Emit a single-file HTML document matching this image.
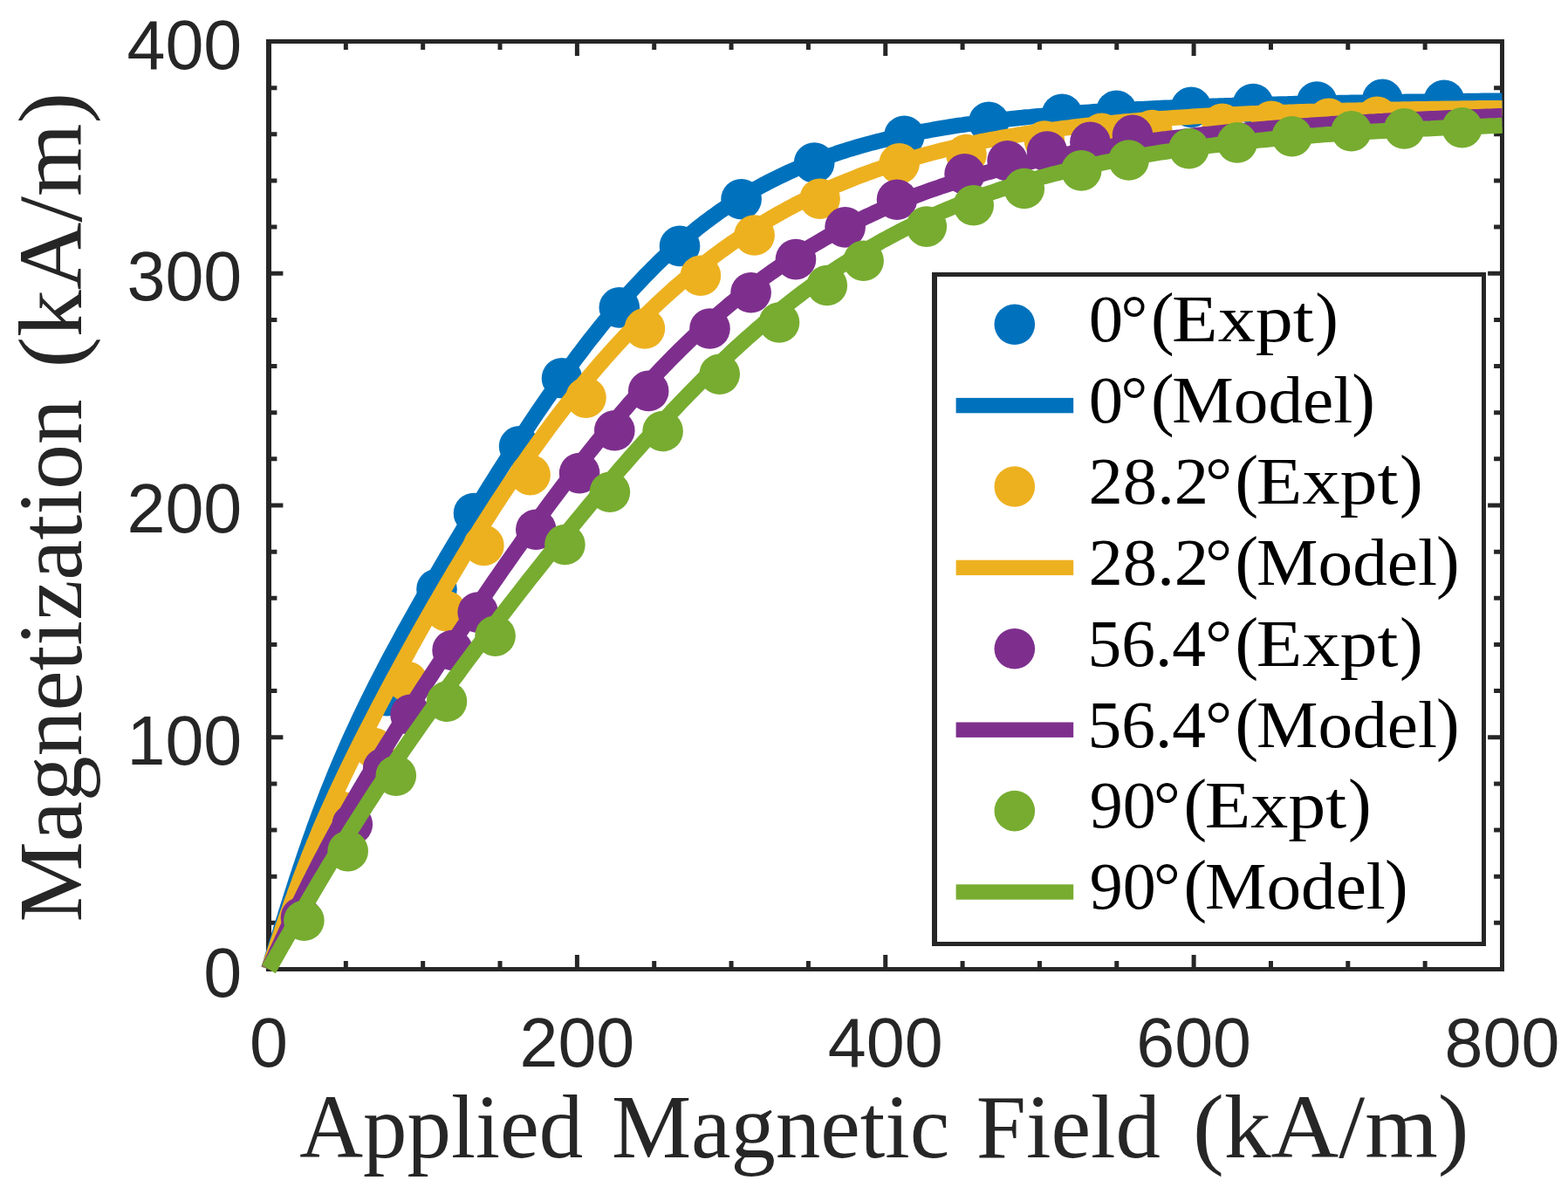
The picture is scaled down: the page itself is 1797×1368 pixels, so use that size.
<!DOCTYPE html>
<html><head><meta charset="utf-8"><title>Magnetization vs Applied Magnetic Field</title>
<style>html,body{margin:0;padding:0;background:#fff;}svg{display:block;}</style></head>
<body>
<svg width="1797" height="1368" viewBox="0 0 1797 1368">
<rect width="1797" height="1368" fill="#fff"/>
<path d="M308.00,1110.50V1094.10M308.00,47.50V63.90M396.34,1110.50V1101.10M396.34,47.50V56.90M484.69,1110.50V1101.10M484.69,47.50V56.90M573.03,1110.50V1101.10M573.03,47.50V56.90M661.38,1110.50V1094.10M661.38,47.50V63.90M749.72,1110.50V1101.10M749.72,47.50V56.90M838.06,1110.50V1101.10M838.06,47.50V56.90M926.41,1110.50V1101.10M926.41,47.50V56.90M1014.75,1110.50V1094.10M1014.75,47.50V63.90M1103.09,1110.50V1101.10M1103.09,47.50V56.90M1191.44,1110.50V1101.10M1191.44,47.50V56.90M1279.78,1110.50V1101.10M1279.78,47.50V56.90M1368.12,1110.50V1094.10M1368.12,47.50V63.90M1456.47,1110.50V1101.10M1456.47,47.50V56.90M1544.81,1110.50V1101.10M1544.81,47.50V56.90M1633.16,1110.50V1101.10M1633.16,47.50V56.90M1721.50,1110.50V1094.10M1721.50,47.50V63.90M308.00,1110.50H324.40M1721.50,1110.50H1705.10M308.00,1057.35H317.40M1721.50,1057.35H1712.10M308.00,1004.20H317.40M1721.50,1004.20H1712.10M308.00,951.05H317.40M1721.50,951.05H1712.10M308.00,897.90H317.40M1721.50,897.90H1712.10M308.00,844.75H324.40M1721.50,844.75H1705.10M308.00,791.60H317.40M1721.50,791.60H1712.10M308.00,738.45H317.40M1721.50,738.45H1712.10M308.00,685.30H317.40M1721.50,685.30H1712.10M308.00,632.15H317.40M1721.50,632.15H1712.10M308.00,579.00H324.40M1721.50,579.00H1705.10M308.00,525.85H317.40M1721.50,525.85H1712.10M308.00,472.70H317.40M1721.50,472.70H1712.10M308.00,419.55H317.40M1721.50,419.55H1712.10M308.00,366.40H317.40M1721.50,366.40H1712.10M308.00,313.25H324.40M1721.50,313.25H1705.10M308.00,260.10H317.40M1721.50,260.10H1712.10M308.00,206.95H317.40M1721.50,206.95H1712.10M308.00,153.80H317.40M1721.50,153.80H1712.10M308.00,100.65H317.40M1721.50,100.65H1712.10M308.00,47.50H324.40M1721.50,47.50H1705.10" stroke="#262626" stroke-width="5.0" fill="none"/>
<rect x="305" y="45" width="6" height="1068" fill="#262626"/><rect x="1719" y="45" width="5" height="1068" fill="#262626"/><rect x="305" y="45" width="1419" height="5" fill="#262626"/><rect x="305" y="1108" width="1419" height="5" fill="#262626"/>
<g fill="#0072BD"><circle cx="443.6" cy="797.2" r="23.3"/><circle cx="500.5" cy="675.0" r="23.3"/><circle cx="543.0" cy="588.0" r="23.3"/><circle cx="595.1" cy="511.4" r="23.3"/><circle cx="644.0" cy="433.3" r="23.3"/><circle cx="709.8" cy="352.4" r="23.3"/><circle cx="779.0" cy="281.9" r="23.3"/><circle cx="849.6" cy="228.2" r="23.3"/><circle cx="933.2" cy="186.5" r="23.3"/><circle cx="1036.3" cy="155.8" r="23.3"/><circle cx="1133.2" cy="139.8" r="23.3"/><circle cx="1217.1" cy="130.7" r="23.3"/><circle cx="1279.5" cy="126.8" r="23.3"/><circle cx="1365.1" cy="122.9" r="23.3"/><circle cx="1436.1" cy="119.0" r="23.3"/><circle cx="1509.2" cy="116.6" r="23.3"/><circle cx="1584.3" cy="113.9" r="23.3"/><circle cx="1655.0" cy="114.7" r="23.3"/></g>
<path d="M308.0,1110.5 L308.9,1107.6 L309.8,1104.7 L310.7,1101.8 L311.5,1098.9 L312.4,1095.9 L313.3,1093.0 L314.2,1090.1 L315.1,1087.2 L316.0,1084.3 L316.8,1081.4 L317.7,1078.5 L318.6,1075.7 L319.5,1072.8 L320.4,1069.9 L321.3,1067.0 L322.1,1064.1 L323.0,1061.3 L323.9,1058.4 L324.8,1055.6 L325.7,1052.7 L326.6,1049.9 L327.4,1047.0 L328.3,1044.2 L329.2,1041.4 L330.1,1038.6 L331.0,1035.7 L331.9,1032.9 L332.7,1030.2 L333.6,1027.4 L334.5,1024.6 L335.4,1021.8 L336.3,1019.1 L337.2,1016.3 L338.0,1013.6 L338.9,1010.9 L339.8,1008.1 L340.7,1005.4 L341.6,1002.7 L342.5,1000.0 L343.3,997.4 L344.2,994.7 L345.1,992.0 L346.0,989.4 L346.9,986.8 L347.8,984.1 L348.6,981.5 L349.5,978.9 L350.4,976.3 L351.3,973.7 L352.2,971.2 L353.1,968.6 L353.9,966.1 L354.8,963.5 L355.7,961.0 L356.6,958.5 L357.5,956.0 L358.4,953.5 L359.2,951.1 L360.1,948.6 L361.0,946.1 L361.9,943.7 L366.4,931.3 L371.0,919.3 L375.5,907.5 L380.1,896.1 L384.6,884.9 L389.2,874.0 L393.7,863.4 L398.3,853.0 L402.8,842.9 L407.4,833.0 L411.9,823.2 L416.5,813.7 L421.0,804.3 L425.6,795.1 L430.1,786.1 L434.6,777.2 L439.2,768.4 L443.7,759.7 L448.3,751.1 L452.8,742.6 L457.4,734.2 L461.9,725.9 L466.5,717.7 L471.0,709.5 L475.6,701.4 L480.1,693.3 L484.7,685.3 L489.2,677.4 L493.8,669.5 L498.3,661.6 L502.9,653.8 L507.4,646.1 L511.9,638.4 L516.5,630.7 L521.0,623.0 L525.6,615.4 L530.1,607.9 L534.7,600.3 L539.2,592.8 L543.8,585.4 L548.3,577.9 L552.9,570.6 L557.4,563.2 L562.0,555.9 L566.5,548.7 L571.1,541.4 L575.6,534.3 L580.2,527.1 L584.7,520.0 L589.2,513.0 L593.8,506.0 L598.3,499.1 L602.9,492.2 L607.4,485.3 L612.0,478.5 L616.5,471.8 L621.1,465.1 L625.6,458.5 L630.2,452.0 L634.7,445.5 L639.3,439.0 L643.8,432.7 L648.4,426.4 L652.9,420.2 L657.5,414.0 L662.0,407.9 L666.6,401.9 L671.1,395.9 L675.6,390.1 L680.2,384.3 L684.7,378.6 L689.3,372.9 L693.8,367.4 L698.4,361.9 L702.9,356.5 L707.5,351.2 L712.0,345.9 L716.6,340.8 L721.1,335.7 L725.7,330.7 L730.2,325.8 L734.8,321.0 L739.3,316.2 L743.9,311.6 L748.4,307.0 L752.9,302.5 L757.5,298.1 L762.0,293.8 L766.6,289.6 L771.1,285.4 L775.7,281.3 L780.2,277.3 L784.8,273.4 L789.3,269.6 L793.9,265.9 L798.4,262.2 L803.0,258.6 L807.5,255.1 L812.1,251.7 L816.6,248.3 L821.2,245.1 L825.7,241.8 L830.3,238.7 L834.8,235.7 L839.3,232.7 L843.9,229.8 L848.4,226.9 L853.0,224.1 L857.5,221.4 L862.1,218.8 L866.6,216.2 L871.2,213.7 L875.7,211.2 L880.3,208.8 L884.8,206.5 L889.4,204.2 L893.9,202.0 L898.5,199.8 L903.0,197.7 L907.6,195.6 L912.1,193.6 L916.6,191.7 L921.2,189.7 L925.7,187.9 L930.3,186.1 L934.8,184.3 L939.4,182.6 L943.9,180.9 L948.5,179.3 L953.0,177.7 L957.6,176.2 L962.1,174.6 L966.7,173.2 L971.2,171.7 L975.8,170.4 L980.3,169.0 L984.9,167.7 L989.4,166.4 L993.9,165.1 L998.5,163.9 L1003.0,162.7 L1007.6,161.6 L1012.1,160.4 L1016.7,159.3 L1021.2,158.3 L1025.8,157.2 L1030.3,156.2 L1034.9,155.2 L1039.4,154.3 L1044.0,153.3 L1048.5,152.4 L1053.1,151.5 L1057.6,150.6 L1062.2,149.8 L1066.7,149.0 L1071.3,148.2 L1075.8,147.4 L1080.3,146.6 L1084.9,145.9 L1089.4,145.1 L1094.0,144.4 L1098.5,143.7 L1103.1,143.1 L1107.6,142.4 L1112.2,141.8 L1116.7,141.1 L1121.3,140.5 L1125.8,139.9 L1130.4,139.4 L1134.9,138.8 L1139.5,138.3 L1144.0,137.7 L1148.6,137.2 L1153.1,136.7 L1157.6,136.2 L1162.2,135.7 L1166.7,135.2 L1171.3,134.8 L1175.8,134.3 L1180.4,133.9 L1184.9,133.4 L1189.5,133.0 L1194.0,132.6 L1198.6,132.2 L1203.1,131.8 L1207.7,131.4 L1212.2,131.1 L1216.8,130.7 L1221.3,130.3 L1225.9,130.0 L1230.4,129.6 L1235.0,129.3 L1239.5,129.0 L1244.0,128.7 L1248.6,128.4 L1253.1,128.1 L1257.7,127.8 L1262.2,127.5 L1266.8,127.2 L1271.3,126.9 L1275.9,126.6 L1280.4,126.4 L1285.0,126.1 L1289.5,125.9 L1294.1,125.6 L1298.6,125.4 L1303.2,125.1 L1307.7,124.9 L1312.3,124.7 L1316.8,124.5 L1321.3,124.3 L1325.9,124.0 L1330.4,123.8 L1335.0,123.6 L1339.5,123.4 L1344.1,123.2 L1348.6,123.0 L1353.2,122.9 L1357.7,122.7 L1362.3,122.5 L1366.8,122.3 L1371.4,122.2 L1375.9,122.0 L1380.5,121.8 L1385.0,121.7 L1389.6,121.5 L1394.1,121.4 L1398.6,121.2 L1403.2,121.1 L1407.7,120.9 L1412.3,120.8 L1416.8,120.6 L1421.4,120.5 L1425.9,120.4 L1430.5,120.2 L1435.0,120.1 L1439.6,120.0 L1444.1,119.9 L1448.7,119.7 L1453.2,119.6 L1457.8,119.5 L1462.3,119.4 L1466.9,119.3 L1471.4,119.2 L1476.0,119.1 L1480.5,118.9 L1485.0,118.8 L1489.6,118.7 L1494.1,118.6 L1498.7,118.5 L1503.2,118.5 L1507.8,118.4 L1512.3,118.3 L1516.9,118.2 L1521.4,118.1 L1526.0,118.0 L1530.5,117.9 L1535.1,117.8 L1539.6,117.7 L1544.2,117.7 L1548.7,117.6 L1553.3,117.5 L1557.8,117.4 L1562.3,117.4 L1566.9,117.3 L1571.4,117.2 L1576.0,117.1 L1580.5,117.1 L1585.1,117.0 L1589.6,116.9 L1594.2,116.9 L1598.7,116.8 L1603.3,116.7 L1607.8,116.7 L1612.4,116.6 L1616.9,116.6 L1621.5,116.5 L1626.0,116.4 L1630.6,116.4 L1635.1,116.3 L1639.7,116.3 L1644.2,116.2 L1648.7,116.2 L1653.3,116.1 L1657.8,116.1 L1662.4,116.0 L1666.9,116.0 L1671.5,115.9 L1676.0,115.9 L1680.6,115.8 L1685.1,115.8 L1689.7,115.7 L1694.2,115.7 L1698.8,115.6 L1703.3,115.6 L1707.9,115.5 L1712.4,115.5 L1717.0,115.5 L1721.5,115.4" fill="none" stroke="#0072BD" stroke-width="18.0" stroke-linejoin="round"/>
<g fill="#EDB120"><circle cx="392.0" cy="930.0" r="23.3"/><circle cx="428.5" cy="857.0" r="23.3"/><circle cx="467.0" cy="781.0" r="23.3"/><circle cx="511.0" cy="700.0" r="23.3"/><circle cx="554.4" cy="624.9" r="23.3"/><circle cx="607.6" cy="544.1" r="23.3"/><circle cx="671.5" cy="455.6" r="23.3"/><circle cx="738.9" cy="376.4" r="23.3"/><circle cx="802.9" cy="315.7" r="23.3"/><circle cx="864.6" cy="269.5" r="23.3"/><circle cx="939.6" cy="227.8" r="23.3"/><circle cx="1030.6" cy="187.4" r="23.3"/><circle cx="1107.5" cy="177.0" r="23.3"/><circle cx="1197.0" cy="161.6" r="23.3"/><circle cx="1262.6" cy="152.7" r="23.3"/><circle cx="1320.3" cy="149.0" r="23.3"/><circle cx="1400.7" cy="141.9" r="23.3"/><circle cx="1457.0" cy="138.7" r="23.3"/><circle cx="1522.7" cy="135.8" r="23.3"/><circle cx="1578.2" cy="133.8" r="23.3"/></g>
<path d="M308.0,1110.5 L308.9,1107.9 L309.8,1105.2 L310.7,1102.6 L311.5,1099.9 L312.4,1097.3 L313.3,1094.7 L314.2,1092.1 L315.1,1089.4 L316.0,1086.8 L316.8,1084.2 L317.7,1081.6 L318.6,1079.0 L319.5,1076.4 L320.4,1073.8 L321.3,1071.2 L322.1,1068.6 L323.0,1066.0 L323.9,1063.4 L324.8,1060.8 L325.7,1058.3 L326.6,1055.7 L327.4,1053.2 L328.3,1050.6 L329.2,1048.1 L330.1,1045.6 L331.0,1043.1 L331.9,1040.6 L332.7,1038.1 L333.6,1035.6 L334.5,1033.1 L335.4,1030.7 L336.3,1028.2 L337.2,1025.8 L338.0,1023.3 L338.9,1020.9 L339.8,1018.5 L340.7,1016.1 L341.6,1013.7 L342.5,1011.3 L343.3,1008.9 L344.2,1006.6 L345.1,1004.2 L346.0,1001.9 L346.9,999.6 L347.8,997.3 L348.6,995.0 L349.5,992.7 L350.4,990.4 L351.3,988.1 L352.2,985.9 L353.1,983.6 L353.9,981.4 L354.8,979.1 L355.7,976.9 L356.6,974.7 L357.5,972.5 L358.4,970.3 L359.2,968.2 L360.1,966.0 L361.0,963.8 L361.9,961.7 L366.4,950.8 L371.0,940.2 L375.5,929.8 L380.1,919.6 L384.6,909.6 L389.2,899.8 L393.7,890.2 L398.3,880.7 L402.8,871.3 L407.4,862.1 L411.9,852.9 L416.5,843.9 L421.0,835.0 L425.6,826.1 L430.1,817.3 L434.6,808.6 L439.2,800.0 L443.7,791.4 L448.3,782.9 L452.8,774.5 L457.4,766.1 L461.9,757.7 L466.5,749.5 L471.0,741.2 L475.6,733.0 L480.1,724.9 L484.7,716.8 L489.2,708.8 L493.8,700.9 L498.3,692.9 L502.9,685.1 L507.4,677.3 L511.9,669.5 L516.5,661.8 L521.0,654.1 L525.6,646.6 L530.1,639.0 L534.7,631.5 L539.2,624.1 L543.8,616.8 L548.3,609.4 L552.9,602.2 L557.4,595.0 L562.0,587.9 L566.5,580.8 L571.1,573.8 L575.6,566.9 L580.2,560.0 L584.7,553.2 L589.2,546.5 L593.8,539.8 L598.3,533.2 L602.9,526.6 L607.4,520.1 L612.0,513.7 L616.5,507.4 L621.1,501.1 L625.6,494.9 L630.2,488.7 L634.7,482.6 L639.3,476.6 L643.8,470.7 L648.4,464.8 L652.9,459.0 L657.5,453.3 L662.0,447.6 L666.6,442.0 L671.1,436.5 L675.6,431.0 L680.2,425.6 L684.7,420.3 L689.3,415.0 L693.8,409.9 L698.4,404.7 L702.9,399.7 L707.5,394.7 L712.0,389.8 L716.6,384.9 L721.1,380.2 L725.7,375.4 L730.2,370.8 L734.8,366.2 L739.3,361.7 L743.9,357.3 L748.4,352.9 L752.9,348.6 L757.5,344.3 L762.0,340.1 L766.6,336.0 L771.1,331.9 L775.7,327.9 L780.2,324.0 L784.8,320.1 L789.3,316.3 L793.9,312.5 L798.4,308.9 L803.0,305.2 L807.5,301.6 L812.1,298.1 L816.6,294.7 L821.2,291.3 L825.7,287.9 L830.3,284.6 L834.8,281.4 L839.3,278.2 L843.9,275.1 L848.4,272.0 L853.0,269.0 L857.5,266.0 L862.1,263.1 L866.6,260.3 L871.2,257.4 L875.7,254.7 L880.3,252.0 L884.8,249.3 L889.4,246.7 L893.9,244.1 L898.5,241.6 L903.0,239.1 L907.6,236.7 L912.1,234.3 L916.6,232.0 L921.2,229.7 L925.7,227.4 L930.3,225.2 L934.8,223.0 L939.4,220.9 L943.9,218.8 L948.5,216.8 L953.0,214.8 L957.6,212.8 L962.1,210.8 L966.7,209.0 L971.2,207.1 L975.8,205.3 L980.3,203.5 L984.9,201.7 L989.4,200.0 L993.9,198.3 L998.5,196.7 L1003.0,195.1 L1007.6,193.5 L1012.1,191.9 L1016.7,190.4 L1021.2,188.9 L1025.8,187.5 L1030.3,186.0 L1034.9,184.6 L1039.4,183.2 L1044.0,181.9 L1048.5,180.6 L1053.1,179.3 L1057.6,178.0 L1062.2,176.8 L1066.7,175.6 L1071.3,174.4 L1075.8,173.2 L1080.3,172.1 L1084.9,171.0 L1089.4,169.9 L1094.0,168.8 L1098.5,167.8 L1103.1,166.7 L1107.6,165.7 L1112.2,164.8 L1116.7,163.8 L1121.3,162.9 L1125.8,161.9 L1130.4,161.0 L1134.9,160.2 L1139.5,159.3 L1144.0,158.5 L1148.6,157.6 L1153.1,156.8 L1157.6,156.0 L1162.2,155.3 L1166.7,154.5 L1171.3,153.8 L1175.8,153.0 L1180.4,152.3 L1184.9,151.6 L1189.5,151.0 L1194.0,150.3 L1198.6,149.7 L1203.1,149.0 L1207.7,148.4 L1212.2,147.8 L1216.8,147.2 L1221.3,146.6 L1225.9,146.1 L1230.4,145.5 L1235.0,145.0 L1239.5,144.4 L1244.0,143.9 L1248.6,143.4 L1253.1,142.9 L1257.7,142.4 L1262.2,142.0 L1266.8,141.5 L1271.3,141.1 L1275.9,140.6 L1280.4,140.2 L1285.0,139.8 L1289.5,139.3 L1294.1,138.9 L1298.6,138.6 L1303.2,138.2 L1307.7,137.8 L1312.3,137.4 L1316.8,137.1 L1321.3,136.7 L1325.9,136.4 L1330.4,136.0 L1335.0,135.7 L1339.5,135.4 L1344.1,135.1 L1348.6,134.8 L1353.2,134.5 L1357.7,134.2 L1362.3,133.9 L1366.8,133.6 L1371.4,133.3 L1375.9,133.1 L1380.5,132.8 L1385.0,132.6 L1389.6,132.3 L1394.1,132.1 L1398.6,131.8 L1403.2,131.6 L1407.7,131.4 L1412.3,131.2 L1416.8,131.0 L1421.4,130.7 L1425.9,130.5 L1430.5,130.3 L1435.0,130.1 L1439.6,130.0 L1444.1,129.8 L1448.7,129.6 L1453.2,129.4 L1457.8,129.2 L1462.3,129.1 L1466.9,128.9 L1471.4,128.7 L1476.0,128.6 L1480.5,128.4 L1485.0,128.3 L1489.6,128.1 L1494.1,128.0 L1498.7,127.8 L1503.2,127.7 L1507.8,127.6 L1512.3,127.4 L1516.9,127.3 L1521.4,127.2 L1526.0,127.1 L1530.5,127.0 L1535.1,126.8 L1539.6,126.7 L1544.2,126.6 L1548.7,126.5 L1553.3,126.4 L1557.8,126.3 L1562.3,126.2 L1566.9,126.1 L1571.4,126.0 L1576.0,125.9 L1580.5,125.8 L1585.1,125.7 L1589.6,125.6 L1594.2,125.6 L1598.7,125.5 L1603.3,125.4 L1607.8,125.3 L1612.4,125.2 L1616.9,125.2 L1621.5,125.1 L1626.0,125.0 L1630.6,125.0 L1635.1,124.9 L1639.7,124.8 L1644.2,124.8 L1648.7,124.7 L1653.3,124.6 L1657.8,124.6 L1662.4,124.5 L1666.9,124.5 L1671.5,124.4 L1676.0,124.3 L1680.6,124.3 L1685.1,124.2 L1689.7,124.2 L1694.2,124.1 L1698.8,124.1 L1703.3,124.1 L1707.9,124.0 L1712.4,124.0 L1717.0,123.9 L1721.5,123.9" fill="none" stroke="#EDB120" stroke-width="18.0" stroke-linejoin="round"/>
<g fill="#7E2F8E"><circle cx="345.0" cy="1051.0" r="23.3"/><circle cx="403.8" cy="944.5" r="23.3"/><circle cx="439.2" cy="880.2" r="23.3"/><circle cx="470.5" cy="818.8" r="23.3"/><circle cx="518.6" cy="745.0" r="23.3"/><circle cx="547.7" cy="701.6" r="23.3"/><circle cx="614.3" cy="606.8" r="23.3"/><circle cx="664.1" cy="542.1" r="23.3"/><circle cx="704.3" cy="493.2" r="23.3"/><circle cx="743.2" cy="447.9" r="23.3"/><circle cx="813.5" cy="376.5" r="23.3"/><circle cx="860.6" cy="335.2" r="23.3"/><circle cx="912.0" cy="297.1" r="23.3"/><circle cx="968.6" cy="260.4" r="23.3"/><circle cx="1028.0" cy="228.7" r="23.3"/><circle cx="1105.6" cy="199.4" r="23.3"/><circle cx="1154.6" cy="184.3" r="23.3"/><circle cx="1200.0" cy="173.6" r="23.3"/><circle cx="1249.4" cy="162.9" r="23.3"/><circle cx="1298.0" cy="154.9" r="23.3"/></g>
<path d="M308.0,1110.5 L308.9,1108.6 L309.8,1106.6 L310.7,1104.7 L311.5,1102.7 L312.4,1100.8 L313.3,1098.9 L314.2,1096.9 L315.1,1095.0 L316.0,1093.0 L316.8,1091.1 L317.7,1089.2 L318.6,1087.2 L319.5,1085.3 L320.4,1083.4 L321.3,1081.5 L322.1,1079.5 L323.0,1077.6 L323.9,1075.7 L324.8,1073.8 L325.7,1071.9 L326.6,1069.9 L327.4,1068.0 L328.3,1066.1 L329.2,1064.2 L330.1,1062.3 L331.0,1060.4 L331.9,1058.5 L332.7,1056.6 L333.6,1054.8 L334.5,1052.9 L335.4,1051.0 L336.3,1049.1 L337.2,1047.2 L338.0,1045.4 L338.9,1043.5 L339.8,1041.7 L340.7,1039.8 L341.6,1038.0 L342.5,1036.1 L343.3,1034.3 L344.2,1032.4 L345.1,1030.6 L346.0,1028.8 L346.9,1026.9 L347.8,1025.1 L348.6,1023.3 L349.5,1021.5 L350.4,1019.7 L351.3,1017.9 L352.2,1016.1 L353.1,1014.3 L353.9,1012.5 L354.8,1010.8 L355.7,1009.0 L356.6,1007.2 L357.5,1005.4 L358.4,1003.7 L359.2,1001.9 L360.1,1000.2 L361.0,998.4 L361.9,996.7 L366.4,987.8 L371.0,979.1 L375.5,970.5 L380.1,962.0 L384.6,953.6 L389.2,945.3 L393.7,937.2 L398.3,929.1 L402.8,921.2 L407.4,913.3 L411.9,905.6 L416.5,897.8 L421.0,890.2 L425.6,882.7 L430.1,875.2 L434.6,867.7 L439.2,860.3 L443.7,853.0 L448.3,845.7 L452.8,838.4 L457.4,831.2 L461.9,824.0 L466.5,816.8 L471.0,809.7 L475.6,802.6 L480.1,795.6 L484.7,788.5 L489.2,781.5 L493.8,774.5 L498.3,767.6 L502.9,760.6 L507.4,753.7 L511.9,746.8 L516.5,739.9 L521.0,733.1 L525.6,726.3 L530.1,719.5 L534.7,712.7 L539.2,705.9 L543.8,699.2 L548.3,692.5 L552.9,685.8 L557.4,679.2 L562.0,672.5 L566.5,665.9 L571.1,659.4 L575.6,652.8 L580.2,646.3 L584.7,639.8 L589.2,633.3 L593.8,626.9 L598.3,620.5 L602.9,614.1 L607.4,607.8 L612.0,601.5 L616.5,595.3 L621.1,589.0 L625.6,582.9 L630.2,576.7 L634.7,570.6 L639.3,564.5 L643.8,558.5 L648.4,552.5 L652.9,546.6 L657.5,540.7 L662.0,534.8 L666.6,529.0 L671.1,523.2 L675.6,517.5 L680.2,511.8 L684.7,506.2 L689.3,500.6 L693.8,495.1 L698.4,489.6 L702.9,484.2 L707.5,478.8 L712.0,473.4 L716.6,468.2 L721.1,462.9 L725.7,457.8 L730.2,452.6 L734.8,447.6 L739.3,442.6 L743.9,437.6 L748.4,432.7 L752.9,427.9 L757.5,423.1 L762.0,418.3 L766.6,413.7 L771.1,409.0 L775.7,404.5 L780.2,399.9 L784.8,395.5 L789.3,391.1 L793.9,386.7 L798.4,382.5 L803.0,378.2 L807.5,374.1 L812.1,369.9 L816.6,365.9 L821.2,361.9 L825.7,357.9 L830.3,354.0 L834.8,350.2 L839.3,346.4 L843.9,342.7 L848.4,339.0 L853.0,335.4 L857.5,331.8 L862.1,328.3 L866.6,324.8 L871.2,321.4 L875.7,318.1 L880.3,314.8 L884.8,311.5 L889.4,308.3 L893.9,305.2 L898.5,302.1 L903.0,299.0 L907.6,296.0 L912.1,293.1 L916.6,290.2 L921.2,287.3 L925.7,284.5 L930.3,281.8 L934.8,279.1 L939.4,276.4 L943.9,273.8 L948.5,271.2 L953.0,268.6 L957.6,266.2 L962.1,263.7 L966.7,261.3 L971.2,258.9 L975.8,256.6 L980.3,254.3 L984.9,252.1 L989.4,249.9 L993.9,247.7 L998.5,245.6 L1003.0,243.5 L1007.6,241.4 L1012.1,239.4 L1016.7,237.4 L1021.2,235.5 L1025.8,233.6 L1030.3,231.7 L1034.9,229.8 L1039.4,228.0 L1044.0,226.3 L1048.5,224.5 L1053.1,222.8 L1057.6,221.1 L1062.2,219.4 L1066.7,217.8 L1071.3,216.2 L1075.8,214.7 L1080.3,213.1 L1084.9,211.6 L1089.4,210.1 L1094.0,208.7 L1098.5,207.2 L1103.1,205.8 L1107.6,204.4 L1112.2,203.1 L1116.7,201.7 L1121.3,200.4 L1125.8,199.2 L1130.4,197.9 L1134.9,196.7 L1139.5,195.4 L1144.0,194.2 L1148.6,193.1 L1153.1,191.9 L1157.6,190.8 L1162.2,189.7 L1166.7,188.6 L1171.3,187.5 L1175.8,186.5 L1180.4,185.4 L1184.9,184.4 L1189.5,183.4 L1194.0,182.4 L1198.6,181.5 L1203.1,180.5 L1207.7,179.6 L1212.2,178.7 L1216.8,177.8 L1221.3,176.9 L1225.9,176.1 L1230.4,175.2 L1235.0,174.4 L1239.5,173.5 L1244.0,172.7 L1248.6,172.0 L1253.1,171.2 L1257.7,170.4 L1262.2,169.7 L1266.8,168.9 L1271.3,168.2 L1275.9,167.5 L1280.4,166.8 L1285.0,166.1 L1289.5,165.4 L1294.1,164.8 L1298.6,164.1 L1303.2,163.5 L1307.7,162.8 L1312.3,162.2 L1316.8,161.6 L1321.3,161.0 L1325.9,160.4 L1330.4,159.8 L1335.0,159.3 L1339.5,158.7 L1344.1,158.1 L1348.6,157.6 L1353.2,157.1 L1357.7,156.5 L1362.3,156.0 L1366.8,155.5 L1371.4,155.0 L1375.9,154.5 L1380.5,154.0 L1385.0,153.6 L1389.6,153.1 L1394.1,152.6 L1398.6,152.2 L1403.2,151.7 L1407.7,151.3 L1412.3,150.9 L1416.8,150.5 L1421.4,150.0 L1425.9,149.6 L1430.5,149.2 L1435.0,148.8 L1439.6,148.4 L1444.1,148.1 L1448.7,147.7 L1453.2,147.3 L1457.8,146.9 L1462.3,146.6 L1466.9,146.2 L1471.4,145.9 L1476.0,145.5 L1480.5,145.2 L1485.0,144.9 L1489.6,144.5 L1494.1,144.2 L1498.7,143.9 L1503.2,143.6 L1507.8,143.3 L1512.3,143.0 L1516.9,142.7 L1521.4,142.4 L1526.0,142.1 L1530.5,141.8 L1535.1,141.5 L1539.6,141.2 L1544.2,141.0 L1548.7,140.7 L1553.3,140.4 L1557.8,140.2 L1562.3,139.9 L1566.9,139.7 L1571.4,139.4 L1576.0,139.2 L1580.5,138.9 L1585.1,138.7 L1589.6,138.4 L1594.2,138.2 L1598.7,138.0 L1603.3,137.8 L1607.8,137.5 L1612.4,137.3 L1616.9,137.1 L1621.5,136.9 L1626.0,136.7 L1630.6,136.5 L1635.1,136.3 L1639.7,136.1 L1644.2,135.9 L1648.7,135.7 L1653.3,135.5 L1657.8,135.3 L1662.4,135.1 L1666.9,134.9 L1671.5,134.7 L1676.0,134.6 L1680.6,134.4 L1685.1,134.2 L1689.7,134.0 L1694.2,133.9 L1698.8,133.7 L1703.3,133.5 L1707.9,133.4 L1712.4,133.2 L1717.0,133.0 L1721.5,132.9" fill="none" stroke="#7E2F8E" stroke-width="18.0" stroke-linejoin="round"/>
<g fill="#77AC30"><circle cx="348.4" cy="1054.7" r="23.3"/><circle cx="398.7" cy="975.1" r="23.3"/><circle cx="453.8" cy="888.7" r="23.3"/><circle cx="512.0" cy="803.7" r="23.3"/><circle cx="567.6" cy="728.6" r="23.3"/><circle cx="647.4" cy="624.0" r="23.3"/><circle cx="698.9" cy="563.8" r="23.3"/><circle cx="759.6" cy="494.0" r="23.3"/><circle cx="824.7" cy="428.7" r="23.3"/><circle cx="893.0" cy="369.5" r="23.3"/><circle cx="947.8" cy="327.0" r="23.3"/><circle cx="989.6" cy="298.8" r="23.3"/><circle cx="1061.8" cy="259.6" r="23.3"/><circle cx="1115.7" cy="235.2" r="23.3"/><circle cx="1173.8" cy="216.0" r="23.3"/><circle cx="1239.2" cy="195.4" r="23.3"/><circle cx="1293.6" cy="183.5" r="23.3"/><circle cx="1362.6" cy="170.2" r="23.3"/><circle cx="1417.8" cy="163.4" r="23.3"/><circle cx="1480.6" cy="156.3" r="23.3"/><circle cx="1548.7" cy="150.2" r="23.3"/><circle cx="1609.4" cy="147.4" r="23.3"/><circle cx="1675.6" cy="146.3" r="23.3"/></g>
<path d="M308.0,1110.5 L308.9,1109.0 L309.8,1107.4 L310.7,1105.9 L311.5,1104.3 L312.4,1102.8 L313.3,1101.2 L314.2,1099.7 L315.1,1098.1 L316.0,1096.6 L316.8,1095.0 L317.7,1093.5 L318.6,1091.9 L319.5,1090.4 L320.4,1088.8 L321.3,1087.3 L322.1,1085.7 L323.0,1084.2 L323.9,1082.6 L324.8,1081.1 L325.7,1079.6 L326.6,1078.0 L327.4,1076.5 L328.3,1074.9 L329.2,1073.4 L330.1,1071.8 L331.0,1070.3 L331.9,1068.8 L332.7,1067.2 L333.6,1065.7 L334.5,1064.2 L335.4,1062.6 L336.3,1061.1 L337.2,1059.6 L338.0,1058.0 L338.9,1056.5 L339.8,1055.0 L340.7,1053.4 L341.6,1051.9 L342.5,1050.4 L343.3,1048.9 L344.2,1047.3 L345.1,1045.8 L346.0,1044.3 L346.9,1042.8 L347.8,1041.2 L348.6,1039.7 L349.5,1038.2 L350.4,1036.7 L351.3,1035.2 L352.2,1033.7 L353.1,1032.2 L353.9,1030.6 L354.8,1029.1 L355.7,1027.6 L356.6,1026.1 L357.5,1024.6 L358.4,1023.1 L359.2,1021.6 L360.1,1020.1 L361.0,1018.6 L361.9,1017.1 L366.4,1009.4 L371.0,1001.8 L375.5,994.2 L380.1,986.7 L384.6,979.2 L389.2,971.8 L393.7,964.4 L398.3,957.1 L402.8,949.8 L407.4,942.6 L411.9,935.4 L416.5,928.3 L421.0,921.2 L425.6,914.2 L430.1,907.2 L434.6,900.3 L439.2,893.4 L443.7,886.6 L448.3,879.8 L452.8,873.1 L457.4,866.4 L461.9,859.7 L466.5,853.1 L471.0,846.6 L475.6,840.0 L480.1,833.6 L484.7,827.1 L489.2,820.7 L493.8,814.3 L498.3,807.9 L502.9,801.6 L507.4,795.3 L511.9,789.1 L516.5,782.8 L521.0,776.6 L525.6,770.5 L530.1,764.3 L534.7,758.2 L539.2,752.1 L543.8,746.0 L548.3,739.9 L552.9,733.9 L557.4,727.9 L562.0,721.9 L566.5,715.9 L571.1,710.0 L575.6,704.0 L580.2,698.1 L584.7,692.2 L589.2,686.4 L593.8,680.5 L598.3,674.7 L602.9,668.9 L607.4,663.1 L612.0,657.3 L616.5,651.6 L621.1,645.8 L625.6,640.1 L630.2,634.4 L634.7,628.8 L639.3,623.1 L643.8,617.5 L648.4,611.9 L652.9,606.3 L657.5,600.7 L662.0,595.2 L666.6,589.7 L671.1,584.2 L675.6,578.7 L680.2,573.3 L684.7,567.9 L689.3,562.5 L693.8,557.1 L698.4,551.8 L702.9,546.5 L707.5,541.2 L712.0,535.9 L716.6,530.7 L721.1,525.5 L725.7,520.3 L730.2,515.2 L734.8,510.1 L739.3,505.0 L743.9,500.0 L748.4,495.0 L752.9,490.0 L757.5,485.1 L762.0,480.2 L766.6,475.3 L771.1,470.5 L775.7,465.7 L780.2,460.9 L784.8,456.2 L789.3,451.5 L793.9,446.9 L798.4,442.3 L803.0,437.7 L807.5,433.2 L812.1,428.7 L816.6,424.3 L821.2,419.9 L825.7,415.5 L830.3,411.2 L834.8,406.9 L839.3,402.7 L843.9,398.5 L848.4,394.4 L853.0,390.3 L857.5,386.2 L862.1,382.2 L866.6,378.2 L871.2,374.3 L875.7,370.5 L880.3,366.6 L884.8,362.8 L889.4,359.1 L893.9,355.4 L898.5,351.8 L903.0,348.2 L907.6,344.6 L912.1,341.1 L916.6,337.7 L921.2,334.2 L925.7,330.9 L930.3,327.5 L934.8,324.3 L939.4,321.0 L943.9,317.8 L948.5,314.7 L953.0,311.6 L957.6,308.6 L962.1,305.5 L966.7,302.6 L971.2,299.7 L975.8,296.8 L980.3,294.0 L984.9,291.2 L989.4,288.4 L993.9,285.7 L998.5,283.1 L1003.0,280.5 L1007.6,277.9 L1012.1,275.3 L1016.7,272.9 L1021.2,270.4 L1025.8,268.0 L1030.3,265.6 L1034.9,263.3 L1039.4,261.0 L1044.0,258.7 L1048.5,256.5 L1053.1,254.3 L1057.6,252.2 L1062.2,250.1 L1066.7,248.0 L1071.3,246.0 L1075.8,244.0 L1080.3,242.0 L1084.9,240.1 L1089.4,238.2 L1094.0,236.3 L1098.5,234.5 L1103.1,232.7 L1107.6,230.9 L1112.2,229.2 L1116.7,227.5 L1121.3,225.8 L1125.8,224.2 L1130.4,222.6 L1134.9,221.0 L1139.5,219.5 L1144.0,217.9 L1148.6,216.4 L1153.1,215.0 L1157.6,213.5 L1162.2,212.1 L1166.7,210.7 L1171.3,209.4 L1175.8,208.0 L1180.4,206.7 L1184.9,205.4 L1189.5,204.1 L1194.0,202.9 L1198.6,201.7 L1203.1,200.5 L1207.7,199.3 L1212.2,198.2 L1216.8,197.0 L1221.3,195.9 L1225.9,194.8 L1230.4,193.8 L1235.0,192.7 L1239.5,191.7 L1244.0,190.7 L1248.6,189.7 L1253.1,188.7 L1257.7,187.7 L1262.2,186.8 L1266.8,185.9 L1271.3,185.0 L1275.9,184.1 L1280.4,183.2 L1285.0,182.4 L1289.5,181.5 L1294.1,180.7 L1298.6,179.9 L1303.2,179.1 L1307.7,178.3 L1312.3,177.6 L1316.8,176.8 L1321.3,176.1 L1325.9,175.4 L1330.4,174.7 L1335.0,174.0 L1339.5,173.3 L1344.1,172.6 L1348.6,172.0 L1353.2,171.3 L1357.7,170.7 L1362.3,170.1 L1366.8,169.5 L1371.4,168.9 L1375.9,168.3 L1380.5,167.7 L1385.0,167.1 L1389.6,166.6 L1394.1,166.0 L1398.6,165.5 L1403.2,165.0 L1407.7,164.4 L1412.3,163.9 L1416.8,163.4 L1421.4,162.9 L1425.9,162.5 L1430.5,162.0 L1435.0,161.5 L1439.6,161.1 L1444.1,160.6 L1448.7,160.2 L1453.2,159.7 L1457.8,159.3 L1462.3,158.9 L1466.9,158.5 L1471.4,158.1 L1476.0,157.7 L1480.5,157.3 L1485.0,156.9 L1489.6,156.5 L1494.1,156.2 L1498.7,155.8 L1503.2,155.5 L1507.8,155.1 L1512.3,154.8 L1516.9,154.4 L1521.4,154.1 L1526.0,153.8 L1530.5,153.4 L1535.1,153.1 L1539.6,152.8 L1544.2,152.5 L1548.7,152.2 L1553.3,151.9 L1557.8,151.6 L1562.3,151.3 L1566.9,151.1 L1571.4,150.8 L1576.0,150.5 L1580.5,150.3 L1585.1,150.0 L1589.6,149.7 L1594.2,149.5 L1598.7,149.2 L1603.3,149.0 L1607.8,148.7 L1612.4,148.5 L1616.9,148.3 L1621.5,148.0 L1626.0,147.8 L1630.6,147.6 L1635.1,147.4 L1639.7,147.2 L1644.2,146.9 L1648.7,146.7 L1653.3,146.5 L1657.8,146.3 L1662.4,146.1 L1666.9,145.9 L1671.5,145.7 L1676.0,145.6 L1680.6,145.4 L1685.1,145.2 L1689.7,145.0 L1694.2,144.8 L1698.8,144.7 L1703.3,144.5 L1707.9,144.3 L1712.4,144.2 L1717.0,144.0 L1721.5,143.8" fill="none" stroke="#77AC30" stroke-width="18.0" stroke-linejoin="round"/>
<g font-family="'Liberation Sans', Arial, sans-serif" font-size="79" fill="#262626"><text x="308.00" y="1222" text-anchor="middle">0</text><text x="661.38" y="1222" text-anchor="middle">200</text><text x="1014.75" y="1222" text-anchor="middle">400</text><text x="1368.12" y="1222" text-anchor="middle">600</text><text x="1721.50" y="1222" text-anchor="middle">800</text><text x="277.3" y="1141.70" text-anchor="end">0</text><text x="277.3" y="875.95" text-anchor="end">100</text><text x="277.3" y="610.20" text-anchor="end">200</text><text x="277.3" y="344.45" text-anchor="end">300</text><text x="277.3" y="78.70" text-anchor="end">400</text></g>
<g transform="translate(0,1325.8)" font-family="'Liberation Serif', serif" font-size="103.0" fill="#262626"><text x="343.19" y="0" textLength="324.98" lengthAdjust="spacingAndGlyphs">Applied</text><text x="700.92" y="0" textLength="387.29" lengthAdjust="spacingAndGlyphs">Magnetic</text><text x="1118.72" y="0" textLength="211.27" lengthAdjust="spacingAndGlyphs">Field</text><text x="1367.06" y="0" textLength="316.56" lengthAdjust="spacingAndGlyphs">(kA/m)</text></g>
<g transform="translate(93.1,0) rotate(-90)" font-family="'Liberation Serif', serif" font-size="103.0" fill="#262626"><text x="-1056.61" y="0" textLength="599.34" lengthAdjust="spacingAndGlyphs">Magnetization</text><text x="-421.63" y="0" textLength="315.94" lengthAdjust="spacingAndGlyphs">(kA/m)</text></g>
<rect x="1068" y="312" width="635" height="772" fill="#fff"/><rect x="1068" y="312" width="6" height="772" fill="#262626"/><rect x="1698" y="312" width="5" height="772" fill="#262626"/><rect x="1068" y="312" width="635" height="5" fill="#262626"/><rect x="1068" y="1079" width="635" height="5" fill="#262626"/><circle cx="1162.8" cy="371.7" r="23.3" fill="#0072BD"/><g font-family="'Liberation Serif', serif" fill="#000"><text x="1247.8" y="391.0" font-size="77.0" textLength="39.4" lengthAdjust="spacingAndGlyphs">0</text><text x="1284.5" y="391.0" font-size="77.0">°</text><text x="1318.9" y="391.0" font-size="80.0">(</text><text x="1343.1" y="391.0" font-size="77.0" textLength="162.6" lengthAdjust="spacingAndGlyphs">Expt</text><text x="1507.3" y="391.0" font-size="80.0">)</text></g><rect x="1095.6" y="455.90" width="134.6" height="17.40" fill="#0072BD"/><g font-family="'Liberation Serif', serif" fill="#000"><text x="1247.8" y="483.9" font-size="77.0" textLength="39.4" lengthAdjust="spacingAndGlyphs">0</text><text x="1284.5" y="483.9" font-size="77.0">°</text><text x="1318.9" y="483.9" font-size="80.0">(</text><text x="1343.3" y="483.9" font-size="77.0" textLength="207.0" lengthAdjust="spacingAndGlyphs">Model</text><text x="1549.3" y="483.9" font-size="80.0">)</text></g><circle cx="1162.8" cy="557.5" r="23.3" fill="#EDB120"/><g font-family="'Liberation Serif', serif" fill="#000"><text x="1247.5" y="576.8" font-size="77.0" textLength="137.7" lengthAdjust="spacingAndGlyphs">28.2</text><text x="1381.2" y="576.8" font-size="77.0">°</text><text x="1415.6" y="576.8" font-size="80.0">(</text><text x="1439.8" y="576.8" font-size="77.0" textLength="162.6" lengthAdjust="spacingAndGlyphs">Expt</text><text x="1604.0" y="576.8" font-size="80.0">)</text></g><rect x="1095.6" y="641.70" width="134.6" height="17.40" fill="#EDB120"/><g font-family="'Liberation Serif', serif" fill="#000"><text x="1247.5" y="669.7" font-size="77.0" textLength="137.7" lengthAdjust="spacingAndGlyphs">28.2</text><text x="1381.2" y="669.7" font-size="77.0">°</text><text x="1415.6" y="669.7" font-size="80.0">(</text><text x="1440.0" y="669.7" font-size="77.0" textLength="207.0" lengthAdjust="spacingAndGlyphs">Model</text><text x="1646.0" y="669.7" font-size="80.0">)</text></g><circle cx="1162.8" cy="743.3" r="23.3" fill="#7E2F8E"/><g font-family="'Liberation Serif', serif" fill="#000"><text x="1246.4" y="762.6" font-size="77.0" textLength="135.6" lengthAdjust="spacingAndGlyphs">56.4</text><text x="1381.2" y="762.6" font-size="77.0">°</text><text x="1415.6" y="762.6" font-size="80.0">(</text><text x="1439.8" y="762.6" font-size="77.0" textLength="162.6" lengthAdjust="spacingAndGlyphs">Expt</text><text x="1604.0" y="762.6" font-size="80.0">)</text></g><rect x="1095.6" y="827.50" width="134.6" height="17.40" fill="#7E2F8E"/><g font-family="'Liberation Serif', serif" fill="#000"><text x="1246.4" y="855.5" font-size="77.0" textLength="135.6" lengthAdjust="spacingAndGlyphs">56.4</text><text x="1381.2" y="855.5" font-size="77.0">°</text><text x="1415.6" y="855.5" font-size="80.0">(</text><text x="1440.0" y="855.5" font-size="77.0" textLength="207.0" lengthAdjust="spacingAndGlyphs">Model</text><text x="1646.0" y="855.5" font-size="80.0">)</text></g><circle cx="1162.8" cy="929.1" r="23.3" fill="#77AC30"/><g font-family="'Liberation Serif', serif" fill="#000"><text x="1248.7" y="948.4" font-size="77.0" textLength="76.0" lengthAdjust="spacingAndGlyphs">90</text><text x="1322.1" y="948.4" font-size="77.0">°</text><text x="1356.5" y="948.4" font-size="80.0">(</text><text x="1380.7" y="948.4" font-size="77.0" textLength="162.6" lengthAdjust="spacingAndGlyphs">Expt</text><text x="1544.9" y="948.4" font-size="80.0">)</text></g><rect x="1095.6" y="1013.30" width="134.6" height="17.40" fill="#77AC30"/><g font-family="'Liberation Serif', serif" fill="#000"><text x="1248.7" y="1041.3" font-size="77.0" textLength="76.0" lengthAdjust="spacingAndGlyphs">90</text><text x="1322.1" y="1041.3" font-size="77.0">°</text><text x="1356.5" y="1041.3" font-size="80.0">(</text><text x="1380.9" y="1041.3" font-size="77.0" textLength="207.0" lengthAdjust="spacingAndGlyphs">Model</text><text x="1586.9" y="1041.3" font-size="80.0">)</text></g>
</svg>
</body></html>
